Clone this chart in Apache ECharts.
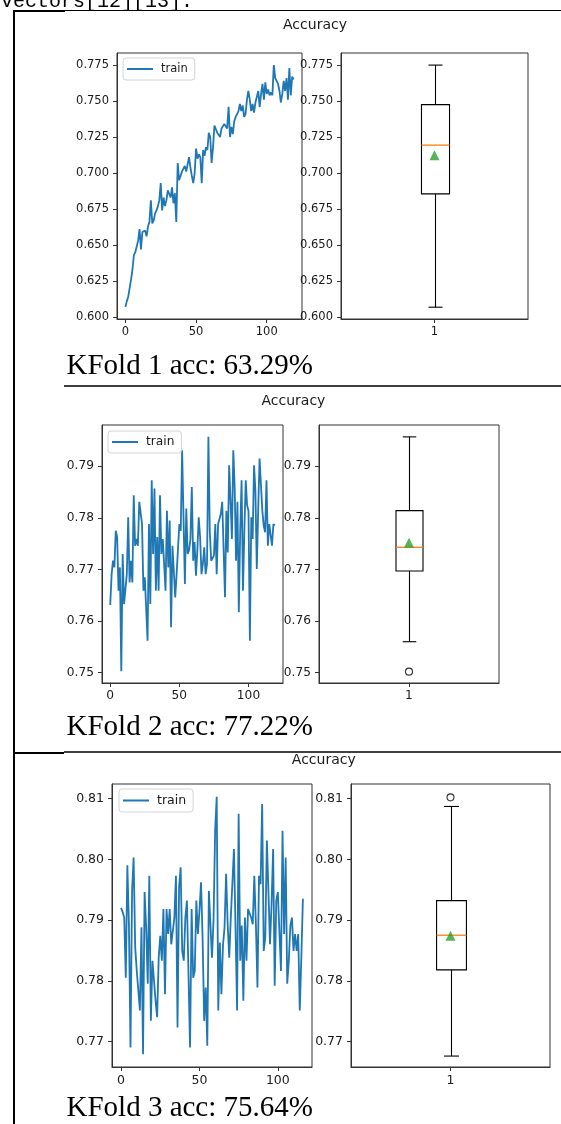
<!DOCTYPE html>
<html>
<head>
<meta charset="utf-8">
<script src="https://cdn.jsdelivr.net/npm/echarts@6/dist/echarts.min.js"></script>
<style>
html, body { margin: 0; padding: 0; background: #fff; }
#main { width: 561px; height: 1124px; }
</style>
</head>
<body>
<div id="main"></div>
<script>
// accuracy per epoch
const train1 = [
    0.607, 0.611, 0.614, 0.620, 0.626, 0.633, 0.643, 0.645, 0.649, 0.653,
    0.661, 0.647, 0.659, 0.658, 0.660, 0.656, 0.663, 0.666, 0.681, 0.665,
    0.667, 0.672, 0.674, 0.677, 0.681, 0.693, 0.674, 0.683, 0.677, 0.681,
    0.688, 0.689, 0.683, 0.690, 0.679, 0.686, 0.666, 0.707, 0.695, 0.694,
    0.701, 0.700, 0.705, 0.701, 0.702, 0.711, 0.704, 0.698, 0.693, 0.700,
    0.717, 0.710, 0.713, 0.711, 0.693, 0.716, 0.712, 0.718, 0.716, 0.728,
    0.725, 0.707, 0.718, 0.733, 0.732, 0.728, 0.729, 0.725, 0.731, 0.732,
    0.734, 0.735, 0.731, 0.746, 0.725, 0.732, 0.727, 0.736, 0.739, 0.741,
    0.743, 0.748, 0.743, 0.747, 0.739, 0.741, 0.751, 0.757, 0.751, 0.743,
    0.748, 0.742, 0.749, 0.750, 0.757, 0.746, 0.755, 0.762, 0.751, 0.763,
    0.755, 0.758, 0.754, 0.756, 0.754, 0.775, 0.766, 0.764, 0.762, 0.757,
    0.749, 0.755, 0.764, 0.757, 0.766, 0.751, 0.773, 0.754, 0.767, 0.765
];
const train2 = [
    0.7631, 0.7690, 0.7717, 0.7704, 0.7775, 0.7763, 0.7659, 0.7704, 0.7503, 0.7730,
    0.7633, 0.7662, 0.7691, 0.7801, 0.7675, 0.7717, 0.7675, 0.7844, 0.7746, 0.7759,
    0.7746, 0.7831, 0.7831, 0.7788, 0.7659, 0.7685, 0.7688, 0.7562, 0.7788, 0.7633,
    0.7873, 0.7730, 0.7857, 0.7659, 0.7763, 0.7659, 0.7844, 0.7730, 0.7759, 0.7759,
    0.7659, 0.7814, 0.7704, 0.7795, 0.7588, 0.7746, 0.7746, 0.7646, 0.7691, 0.7688,
    0.7788, 0.7775, 0.7931, 0.7801, 0.7672, 0.7818, 0.7730, 0.7737, 0.7759, 0.7860,
    0.7717, 0.7753, 0.7688, 0.7737, 0.7801, 0.7763, 0.7691, 0.7711, 0.7743, 0.7691,
    0.7711, 0.7957, 0.7775, 0.7717, 0.7717, 0.7727, 0.7788, 0.7691, 0.7788, 0.7788,
    0.7808, 0.7831, 0.7831, 0.7646, 0.7814, 0.7733, 0.7902, 0.7834, 0.7759, 0.7931,
    0.7860, 0.7717, 0.7831, 0.7617, 0.7775, 0.7873, 0.7659, 0.7775, 0.7873, 0.7824,
    0.7814, 0.7562, 0.7801, 0.7759, 0.7902, 0.7853, 0.7701, 0.7814, 0.7915, 0.7915,
    0.7814, 0.7785, 0.7772, 0.7873, 0.7746, 0.7788, 0.7785, 0.7746, 0.7788, 0.7785
];
const train3 = [
    0.7920, 0.7913, 0.7904, 0.7805, 0.7990, 0.7893, 0.7690, 0.7948, 0.8003, 0.7855,
    0.7816, 0.7784, 0.7751, 0.7888, 0.7679, 0.7946, 0.7888, 0.7795, 0.7973, 0.7734,
    0.7833, 0.7833, 0.7767, 0.7740, 0.7838, 0.7874, 0.7833, 0.7918, 0.7778, 0.7918,
    0.7877, 0.7918, 0.7860, 0.7860, 0.7904, 0.7973, 0.7723, 0.7954, 0.7987, 0.7849,
    0.7833, 0.7904, 0.7932, 0.7932, 0.7690, 0.7918, 0.7805, 0.7816, 0.7932, 0.7877,
    0.7915, 0.7962, 0.7871, 0.7734, 0.7789, 0.7693, 0.7948, 0.7948, 0.7838, 0.7902,
    0.8047, 0.8103, 0.7751, 0.7863, 0.7778, 0.7858, 0.7888, 0.7976, 0.7893, 0.7838,
    0.7904, 0.7904, 0.8017, 0.7888, 0.7751, 0.8075, 0.7833, 0.7891, 0.7767, 0.7904,
    0.7833, 0.7918, 0.7918, 0.7904, 0.7893, 0.7973, 0.7893, 0.7789, 0.7973, 0.7959,
    0.8091, 0.7849, 0.7871, 0.8031, 0.7948, 0.7860, 0.7926, 0.8017, 0.7792, 0.7932,
    0.7946, 0.7948, 0.7816, 0.8047, 0.7877, 0.8003, 0.7795, 0.7833, 0.7891, 0.7904,
    0.7849, 0.7877, 0.7849, 0.7877, 0.7751, 0.7838, 0.7935
];

// box plot stats: [low whisker, q1, median, q3, high whisker]
const box1 = [0.6068, 0.6855, 0.7194, 0.7475, 0.7750];
const box2 = [0.7560, 0.7697, 0.7743, 0.7814, 0.7957];
const box3 = [0.7676, 0.7818, 0.7875, 0.7932, 0.8087];
const mean1 = 0.7123;
const mean2 = 0.7752;
const mean3 = 0.7874;
const fliers1 = [];
const fliers2 = [0.7502];
const fliers3 = [0.8102];

const yTicks1 = [0.600, 0.625, 0.650, 0.675, 0.700, 0.725, 0.750, 0.775];
const yTicks2 = [0.75, 0.76, 0.77, 0.78, 0.79];
const yTicks3 = [0.77, 0.78, 0.79, 0.80, 0.81];
const xTicks = [0, 50, 100];
const boxTicks = [1];

const accTexts = ['KFold 1 acc: 63.29%', 'KFold 2 acc: 77.22%', 'KFold 3 acc: 75.64%'];

// layout of each fold block (pixels)
const panels = [
    { train: train1, box: box1, mean: mean1, fliers: fliers1, ticks: yTicks1, dec: 3,
      line: [117, 53, 185, 266], bx: [341, 53, 187, 266], yr: [0.5986, 0.7834], xr: [-5.95, 124.95],
      fs: 11.5, leg: [123, 58], title: [315, 25.7], acc: 366.5 },
    { train: train2, box: box2, mean: mean2, fliers: fliers2, ticks: yTicks2, dec: 2,
      line: [102, 425, 181, 258], bx: [319, 425, 180, 258], yr: [0.7480, 0.7980], xr: [-5.95, 124.95],
      fs: 12.2, leg: [108, 431], title: [293.4, 401.5], acc: 727 },
    { train: train3, box: box3, mean: mean3, fliers: fliers3, ticks: yTicks3, dec: 2,
      line: [112, 784, 200, 283], bx: [351, 784, 199, 283], yr: [0.7658, 0.8124], xr: [-5.8, 121.8],
      fs: 12.5, leg: [119, 789], title: [323.8, 760.4], acc: 1108 }
];

const BLUE = '#1f77b4';
const ORANGE = '#ff7f0e';
const GREEN = '#2ca02c';
const FRAME = '#333';
const FONT = 'DejaVu Sans';

function renderBox(params, api) {
    const x = api.value(0);
    const lo = api.coord([x, api.value(1)]);
    const q1 = api.coord([x, api.value(2)]);
    const md = api.coord([x, api.value(3)]);
    const q3 = api.coord([x, api.value(4)]);
    const hi = api.coord([x, api.value(5)]);
    const bw = api.size([0.15, 0])[0];
    const cw = bw / 2;
    const cx = Math.round(lo[0]) + 0.5;
    const black = { stroke: '#000', lineWidth: 1.1, fill: null };
    return {
        type: 'group',
        children: [
            { type: 'line', shape: { x1: cx, y1: lo[1], x2: cx, y2: q1[1] }, style: black },
            { type: 'line', shape: { x1: cx, y1: q3[1], x2: cx, y2: hi[1] }, style: black },
            { type: 'line', shape: { x1: cx - cw / 2, y1: lo[1], x2: cx + cw / 2, y2: lo[1] }, style: black },
            { type: 'line', shape: { x1: cx - cw / 2, y1: hi[1], x2: cx + cw / 2, y2: hi[1] }, style: black },
            { type: 'rect', shape: { x: cx - bw / 2, y: q3[1], width: bw, height: q1[1] - q3[1] }, style: black },
            { type: 'line', shape: { x1: cx - bw / 2, y1: md[1], x2: cx + bw / 2, y2: md[1] },
              style: { stroke: ORANGE, lineWidth: 1.3 } }
        ]
    };
}

const grid = [], xAxis = [], yAxis = [], series = [], legend = [], graphic = [];

panels.forEach(function (p, i) {
    const gLine = i * 2, gBox = i * 2 + 1;
    [p.line, p.bx].forEach(function (r) {
        grid.push({ left: r[0], top: r[1], width: r[2], height: r[3],
            show: true, borderColor: FRAME, borderWidth: 1, backgroundColor: '#fff' });
    });
    const labelStyle = { color: '#1a1a1a', fontSize: p.fs, fontFamily: FONT };
    const tick = { show: true, inside: false, length: 4, lineStyle: { color: FRAME, width: 1 } };
    const axLine = { show: true, onZero: false, lineStyle: { color: FRAME, width: 1 } };

    xAxis.push({ type: 'value', gridIndex: gLine, min: p.xr[0], max: p.xr[1],
        axisLine: axLine, splitLine: { show: false },
        axisTick: Object.assign({ customValues: xTicks }, tick),
        axisLabel: Object.assign({ customValues: xTicks, margin: 7 }, labelStyle) });
    xAxis.push({ type: 'value', gridIndex: gBox, min: 0.5, max: 1.5,
        axisLine: axLine, splitLine: { show: false },
        axisTick: Object.assign({ customValues: boxTicks }, tick),
        axisLabel: Object.assign({ customValues: boxTicks, margin: 7 }, labelStyle) });

    [gLine, gBox].forEach(function (g) {
        yAxis.push({ type: 'value', gridIndex: g, min: p.yr[0], max: p.yr[1],
            axisLine: axLine, splitLine: { show: false },
            axisTick: Object.assign({ customValues: p.ticks }, tick),
            axisLabel: Object.assign({ customValues: p.ticks, margin: 8,
                formatter: function (v) { return v.toFixed(p.dec); } }, labelStyle) });
    });

    series.push({
        name: 'train', type: 'line', xAxisIndex: gLine, yAxisIndex: gLine,
        data: p.train.map(function (v, k) { return [k, v]; }),
        symbol: 'none', showSymbol: false, animation: false,
        lineStyle: { color: BLUE, width: 1.8 }, itemStyle: { color: BLUE }
    });
    series.push({
        type: 'custom', xAxisIndex: gBox, yAxisIndex: gBox, animation: false,
        renderItem: renderBox, data: [[1].concat(p.box)], z: 3
    });
    series.push({
        type: 'scatter', xAxisIndex: gBox, yAxisIndex: gBox, animation: false,
        symbol: 'triangle', symbolSize: 10, itemStyle: { color: GREEN },
        data: [[1, p.mean]], z: 4
    });
    if (p.fliers.length) {
        series.push({
            type: 'scatter', xAxisIndex: gBox, yAxisIndex: gBox, animation: false,
            symbol: 'circle', symbolSize: 7,
            itemStyle: { color: 'rgba(0,0,0,0)', borderColor: '#000', borderWidth: 1.1 },
            data: p.fliers.map(function (v) { return [1, v]; }), z: 4
        });
    }

    legend.push({
        left: p.leg[0], top: p.leg[1], orient: 'vertical',
        data: [{ name: 'train', icon: 'rect' }],
        selectedMode: false, itemWidth: 26, itemHeight: 2,
        padding: [5, 7, 5, 4], borderColor: '#d4d4d4', borderWidth: 1, borderRadius: 3,
        backgroundColor: 'rgba(255,255,255,0.85)',
        itemStyle: { color: BLUE },
        textStyle: { color: '#1a1a1a', fontSize: p.fs, fontFamily: FONT, padding: [0, 0, 0, 3] }
    });

    graphic.push({ type: 'text', x: p.title[0], y: p.title[1], silent: true,
        style: { text: 'Accuracy', fill: '#1a1a1a', font: '14px "DejaVu Sans"', align: 'center', verticalAlign: 'middle' } });
    graphic.push({ type: 'text', x: 66.5, y: p.acc, silent: true,
        style: { text: accTexts[i], fill: '#000', font: '29px "Liberation Serif"', align: 'left', verticalAlign: 'middle' } });
});

// document borders round the cells
function rule(x1, y1, x2, y2, w) {
    return { type: 'line', silent: true, shape: { x1: x1, y1: y1, x2: x2, y2: y2 },
        style: { stroke: '#000', lineWidth: w } };
}
graphic.push(rule(14, 10, 14, 1124, 2));
graphic.push(rule(13, 11, 65, 11, 2));
graphic.push(rule(65, 10.5, 561, 10.5, 1.2));
graphic.push(rule(64, 386, 561, 386, 1.5));
graphic.push(rule(13, 753, 64, 753, 2));
graphic.push(rule(64, 752, 561, 752, 1.5));
graphic.push({ type: 'text', x: 1, y: 1.3, silent: true,
    style: { text: 'vectors[12][13].', fill: '#000', font: '20px "Liberation Mono"', verticalAlign: 'middle' } });

const chart = echarts.init(document.getElementById('main'), null, { renderer: 'canvas' });
chart.setOption({
    animation: false,
    backgroundColor: '#fff',
    textStyle: { fontFamily: FONT },
    grid: grid,
    xAxis: xAxis,
    yAxis: yAxis,
    legend: legend,
    series: series,
    graphic: graphic
});
</script>
</body>
</html>
